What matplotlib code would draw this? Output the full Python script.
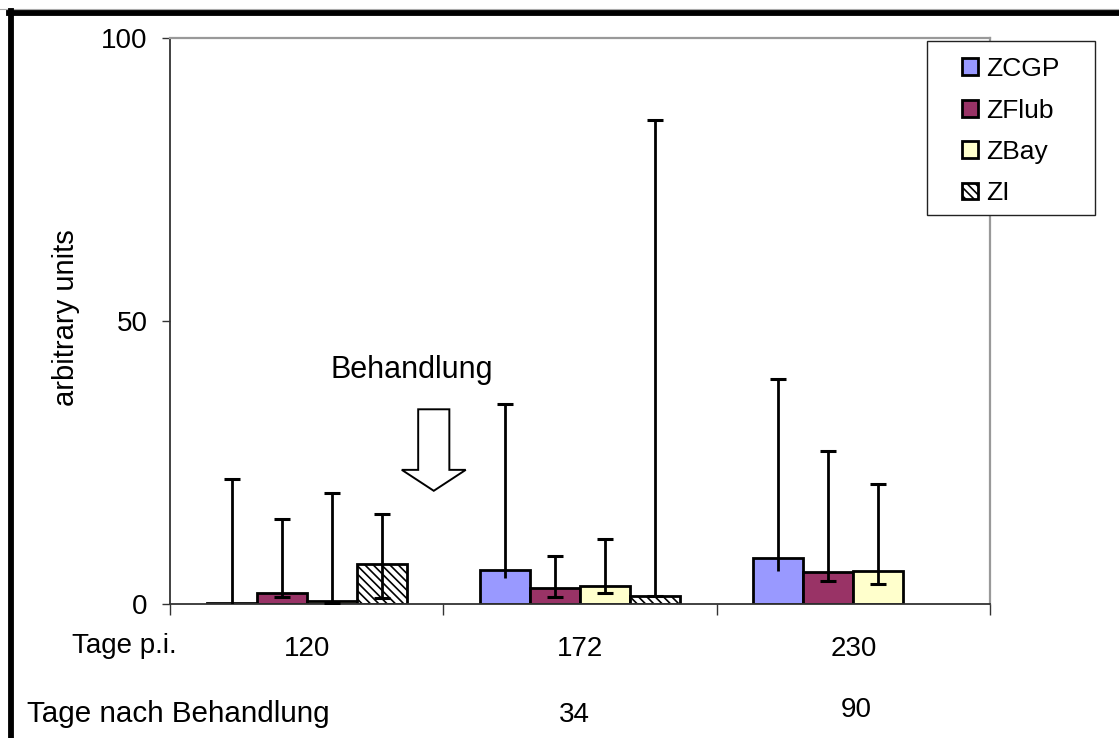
import numpy as np
import matplotlib
matplotlib.use("Agg")
import matplotlib.pyplot as plt
from matplotlib.patches import Polygon, Rectangle, Patch
from matplotlib.lines import Line2D
import matplotlib.transforms as mtransforms

plt.rcParams['font.family'] = ['Liberation Sans', 'DejaVu Sans']
plt.rcParams['hatch.linewidth'] = 1.2

# Categories: days post infection and days after treatment
days_pi = ["120", "172", "230"]
days_after = ["", "34", "90"]

series = ["ZCGP", "ZFlub", "ZBay", "ZI"]
colors = ["#9999FF", "#993366", "#FFFFCC", "#FFFFFF"]
hatches = [None, None, None, "\\\\\\\\"]

# Bar heights (arbitrary units)
zcgp = [0.15, 6.0, 8.1]
zflub = [1.9, 2.8, 5.7]
zbay = [0.5, 3.2, 5.8]
zi = [7.1, 1.4, np.nan]

# Error bar lower and upper ends
zcgp_low = [0.0, 4.6, 5.8]
zcgp_high = [22.1, 35.3, 39.8]
zflub_low = [1.2, 1.2, 4.1]
zflub_high = [15.0, 8.5, 27.0]
zbay_low = [0.2, 1.9, 3.5]
zbay_high = [19.6, 11.5, 21.2]
zi_low = [1.1, 1.4, np.nan]
zi_high = [15.9, 85.5, np.nan]

values = [zcgp, zflub, zbay, zi]
lows = [zcgp_low, zflub_low, zbay_low, zi_low]
highs = [zcgp_high, zflub_high, zbay_high, zi_high]
lower_caps = [False, True, True, True]

W, H = 1119, 738
fig = plt.figure(figsize=(W / 100, H / 100), dpi=100)

def fx(px):
    return px / W

def fy(py):
    return 1 - py / H

ax = fig.add_axes([fx(170), fy(604), fx(990) - fx(170), fy(38) - fy(604)])

x = np.arange(len(days_pi))
bw = 0.183
offsets = (np.arange(len(series)) - 1.5) * bw

for name, vals, col, hat, off in zip(series, values, colors, hatches, offsets):
    ax.bar(x + off, vals, width=bw, color=col, edgecolor="black",
           linewidth=2.0, hatch=hat, zorder=2, label=name)

for vals, lo, hi, off, lcap in zip(values, lows, highs, offsets, lower_caps):
    xs = x + off
    ax.vlines(xs, lo, hi, colors="black", linewidth=2.0, zorder=3)
    ax.plot(xs, hi, linestyle="none", marker="_", markersize=11,
            markeredgewidth=2.2, color="black", zorder=3)
    if lcap:
        ax.plot(xs, lo, linestyle="none", marker="_", markersize=11,
                markeredgewidth=2.2, color="black", zorder=3)

ax.set_xlim(-0.5, 2.5)
ax.set_ylim(0, 100)
ax.set_yticks([0, 50, 100])
ax.tick_params(axis="y", direction="out", length=6, width=1.0,
               labelsize=20, pad=10, color="#333333")

# Category boundaries carry tick marks, category centres carry labels
ax.set_xticks(np.arange(-0.5, 3.0, 1.0))
ax.set_xticklabels([])
ax.set_xticks(x, minor=True)
ax.set_xticklabels(days_pi, minor=True)
ax.tick_params(axis="x", which="major", direction="out", length=8,
               width=1.0, color="#333333")
ax.tick_params(axis="x", which="minor", length=0, labelsize=20, pad=23)

for side in ["left", "bottom"]:
    ax.spines[side].set_color("#333333")
    ax.spines[side].set_linewidth(1.3)
for side in ["top", "right"]:
    ax.spines[side].set_color("#999999")
    ax.spines[side].set_linewidth(1.6)

# Treatment marker: hollow arrow and label
tip_x, tip_y = 0.465, 20.0
shaft_hw, head_hw = 0.057, 0.117
head_base, shaft_top = 23.7, 34.4
arrow = Polygon([(tip_x - shaft_hw, shaft_top), (tip_x + shaft_hw, shaft_top),
                 (tip_x + shaft_hw, head_base), (tip_x + head_hw, head_base),
                 (tip_x, tip_y), (tip_x - head_hw, head_base),
                 (tip_x - shaft_hw, head_base)],
                closed=True, facecolor="white", edgecolor="black",
                linewidth=1.4, zorder=4)
ax.add_patch(arrow)
ax.text(0.385, 41.3, "Behandlung", fontsize=22, ha="center", va="center")

# Legend with a plain rectangular frame
handles = [Patch(facecolor=c, edgecolor="black", linewidth=2.0, hatch=h)
           for c, h in zip(colors, hatches)]
fig.legend(handles, series, loc="upper left",
           bbox_to_anchor=(fx(941), fy(36)), frameon=False, fontsize=19,
           handlelength=0.6, handleheight=0.6, handletextpad=0.3,
           labelspacing=0.66, borderpad=0.3)
fig.patches.append(Rectangle((fx(927), fy(215)), fx(1095) - fx(927),
                             fy(41) - fy(215), transform=fig.transFigure,
                             facecolor="white", edgecolor="#222222",
                             linewidth=1.0, zorder=0))

# Axis titles and row captions
fig.text(fx(66), fy(318), "arbitrary units", rotation=90, fontsize=21,
         ha="center", va="center")
fig.text(fx(72), fy(653), "Tage p.i.", fontsize=20, ha="left",
         va="baseline")
fig.text(fx(27), fy(722), "Tage nach Behandlung", fontsize=21.3, ha="left",
         va="baseline")
trans = mtransforms.blended_transform_factory(ax.transData, fig.transFigure)
after_y = [722, 722, 717]
after_dx = [0.0, -0.02, 0.01]
for xi, lab, yy, dx in zip(x, days_after, after_y, after_dx):
    if lab:
        ax.text(xi + dx, fy(yy), lab, fontsize=20, ha="center",
                va="baseline", transform=trans, clip_on=False)

# Outer frame
fig.add_artist(Line2D([fx(0), fx(W)], [fy(9), fy(9)], color="#aaaaaa",
                      linewidth=0.8, transform=fig.transFigure))
fig.add_artist(Line2D([fx(9), fx(W)], [fy(12.5), fy(12.5)], color="black",
                      linewidth=4.2, transform=fig.transFigure))
fig.add_artist(Line2D([fx(11), fx(11)], [fy(11), fy(H)], color="black",
                      linewidth=4.2, transform=fig.transFigure))

fig.savefig("out.png", dpi=100)
